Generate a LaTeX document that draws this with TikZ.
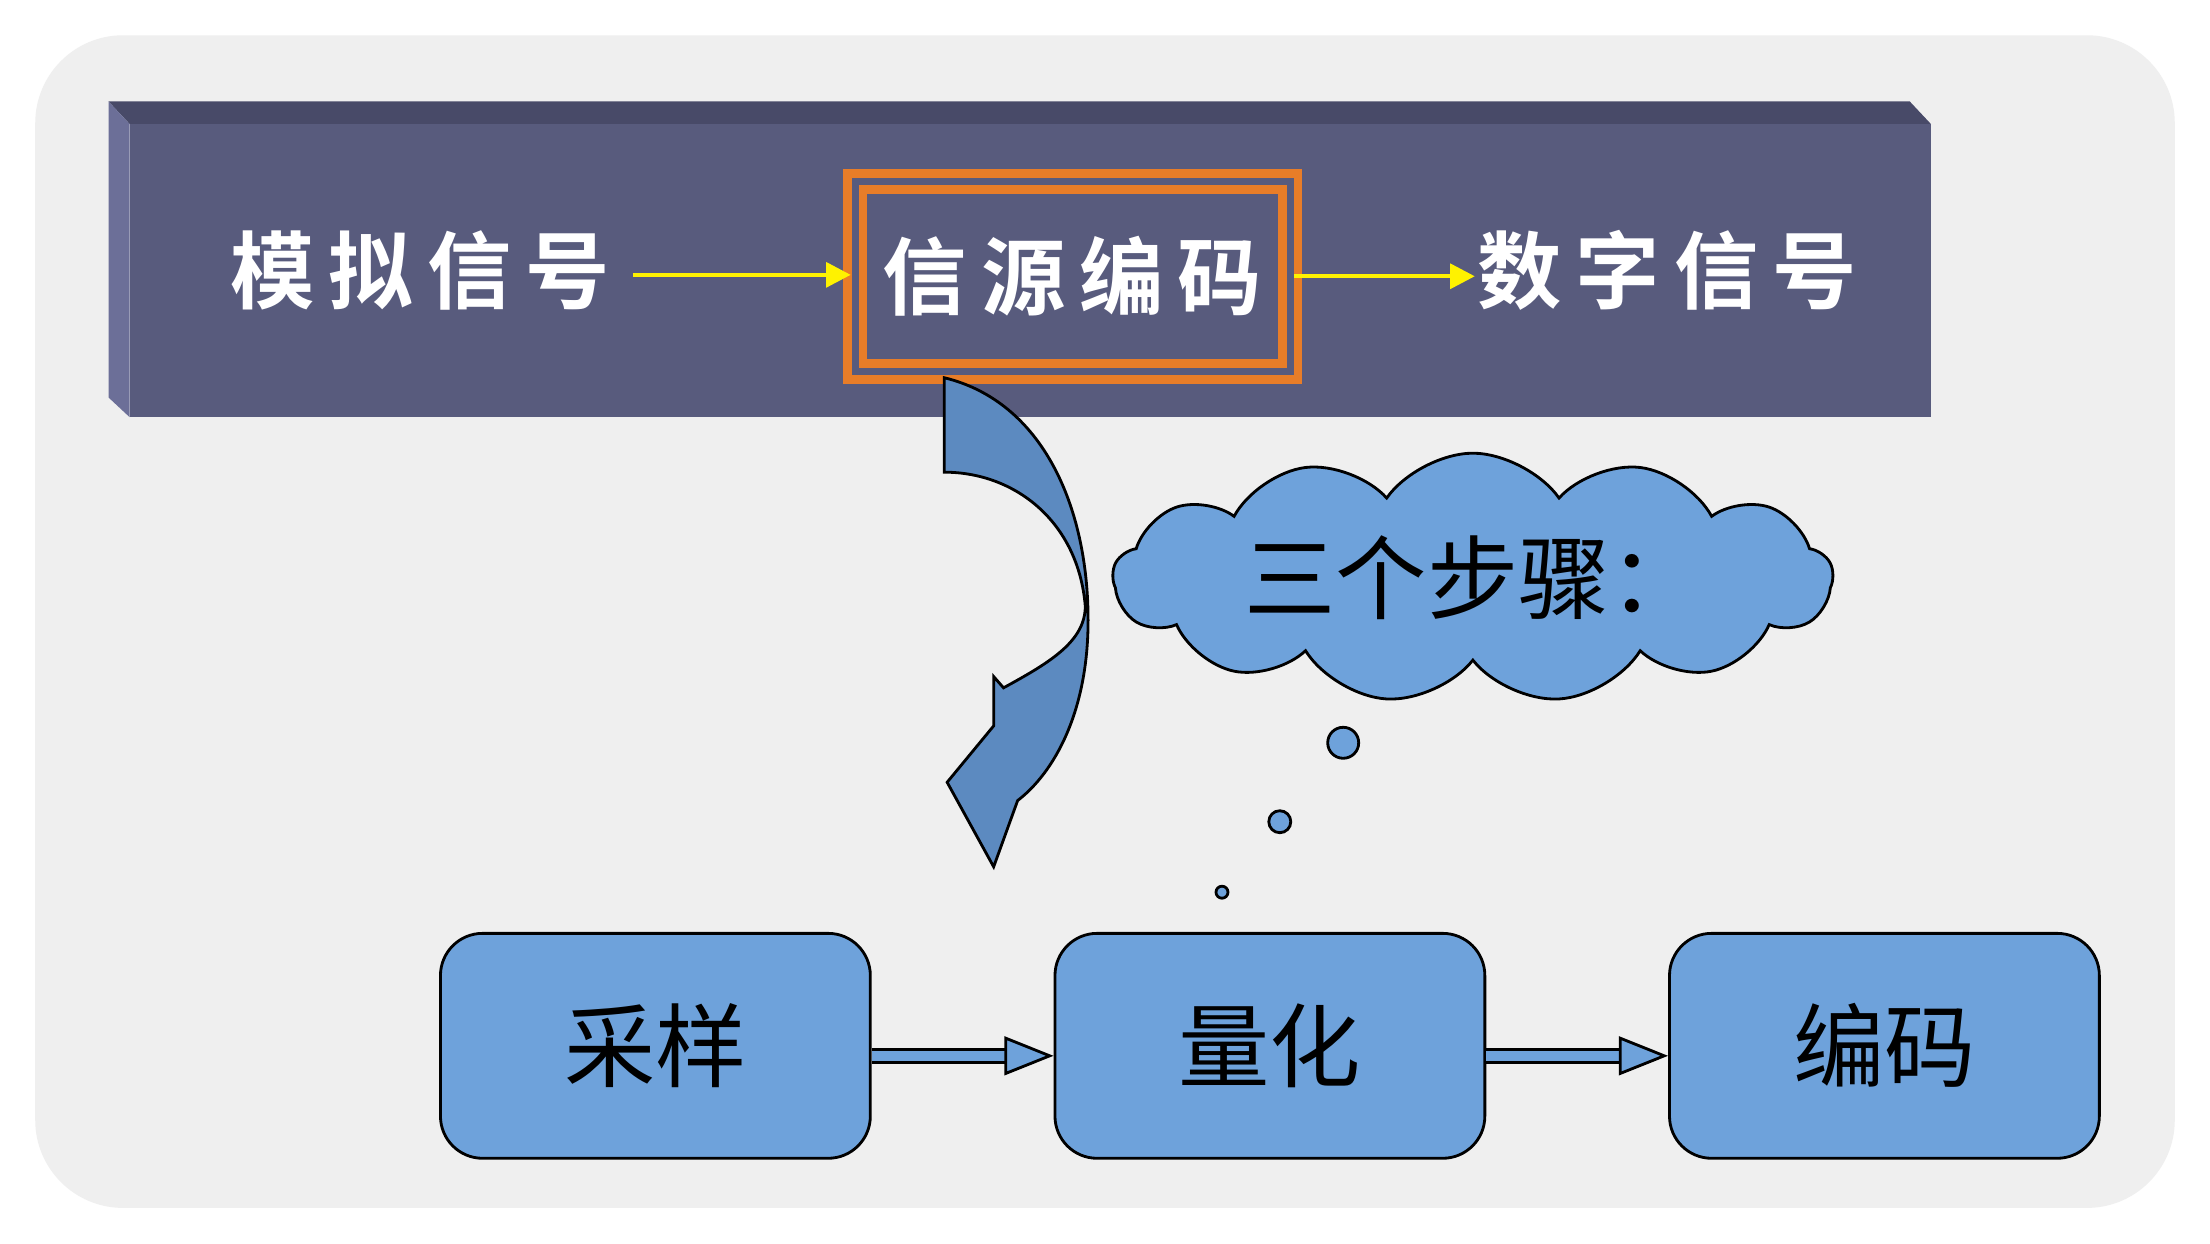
\documentclass[tikz,border=0pt]{standalone}
\usepackage{fontspec}
\newfontfamily\cjk{Noto Sans CJK SC}
\newfontfamily\cjkb{Noto Sans CJK SC Bold}
\usetikzlibrary{shapes.symbols,arrows.meta}
\definecolor{slateBand}{RGB}{88, 91, 125}
\definecolor{slateEdge}{RGB}{108, 111, 152}
\definecolor{slateTop}{RGB}{72, 74, 104}
\definecolor{frameOrange}{RGB}{232, 125, 40}
\definecolor{stepBlue}{RGB}{110, 162, 219}
\definecolor{bendBlue}{RGB}{92, 138, 192}
\definecolor{paperGray}{RGB}{239, 239, 239}
\tikzset{
  stage/.style={draw=black, thick, fill=stepBlue, rounded corners=12pt, minimum width=4.3cm, minimum height=2.25cm, font=\cjk\fontsize{26}{26}\selectfont},
  band/.style={text=white, font=\cjkb\fontsize{24}{24}\selectfont},
  feed/.style={draw=yellow, very thick, -{Triangle[length=7pt,width=7pt]}},
  hollow/.style={double=stepBlue, double distance=3pt, thick, -{Triangle[open,length=14pt,width=11pt,fill=stepBlue]}},
  bubble/.style={circle, draw=black, thick, fill=stepBlue, inner sep=0pt}
}
\begin{document}
\begin{tikzpicture}[x=0.014094cm, y=-0.014094cm]
\useasboundingbox (0,0) rectangle (1568,882);
\fill[white] (0,0) rectangle (1568,882);
\fill[paperGray, rounded corners=25pt] (25,25) rectangle (1543,857);

% banner
\fill[slateTop] (77,72) -- (1355,72) -- (1370,88) -- (92,88) -- cycle;
\fill[slateEdge] (77,72) -- (92,88) -- (92,296) -- (77,282) -- cycle;
\fill[slateBand] (92,88) rectangle (1370,296);

\node[band] (analog) at (298,192) {模\,拟\,信\,号};
\node[band, draw=frameOrange, line width=2.5pt, double=slateBand, double distance=2pt, minimum width=4.35cm, minimum height=1.9cm] (source) at (761,196) {信\,源\,编\,码};
\node[band] (digital) at (1183,192) {数\,字\,信\,号};
\draw[feed] (analog.east) ++(8,3) coordinate (a1) -- (a1 -| source.west);
\draw[feed] (source.east) -- ++(128,0) coordinate (d1);

% bent arrow
\draw[thick, fill=bendBlue] (670,268) .. controls (740,285) and (772,360) .. (772,440)
  .. controls (772,505) and (748,548) .. (722,568) -- (705,615) -- (672,555)
  -- (705,515) -- (705,480) -- (712,488) .. controls (745,470) and (770,455) .. (770,430)
  .. controls (765,370) and (720,335) .. (670,335) -- cycle;

% cloud
\node[cloud, cloud puffs=13, cloud puff arc=110, aspect=4, draw=black, thick, fill=stepBlue, minimum width=7.2cm, minimum height=1.9cm, font=\cjk\fontsize{26}{26}\selectfont] (cloud) at (1045,410) {三个步骤：};
\node[bubble, minimum size=0.31cm] (b1) at (953,527) {};
\node[bubble, minimum size=0.22cm] (b2) at (908,583) {};
\node[bubble, minimum size=0.12cm] (b3) at (867,633) {};

% stages
\node[stage] (sample) at (465,742) {采样};
\node[stage] (quant) at (901,742) {量化};
\node[stage] (code) at (1337,742) {编码};
\draw[hollow] ([yshift=-0.1cm]sample.east) -- ([yshift=-0.1cm]quant.west);
\draw[hollow] ([yshift=-0.1cm]quant.east) -- ([yshift=-0.1cm]code.west);
\end{tikzpicture}
\end{document}
